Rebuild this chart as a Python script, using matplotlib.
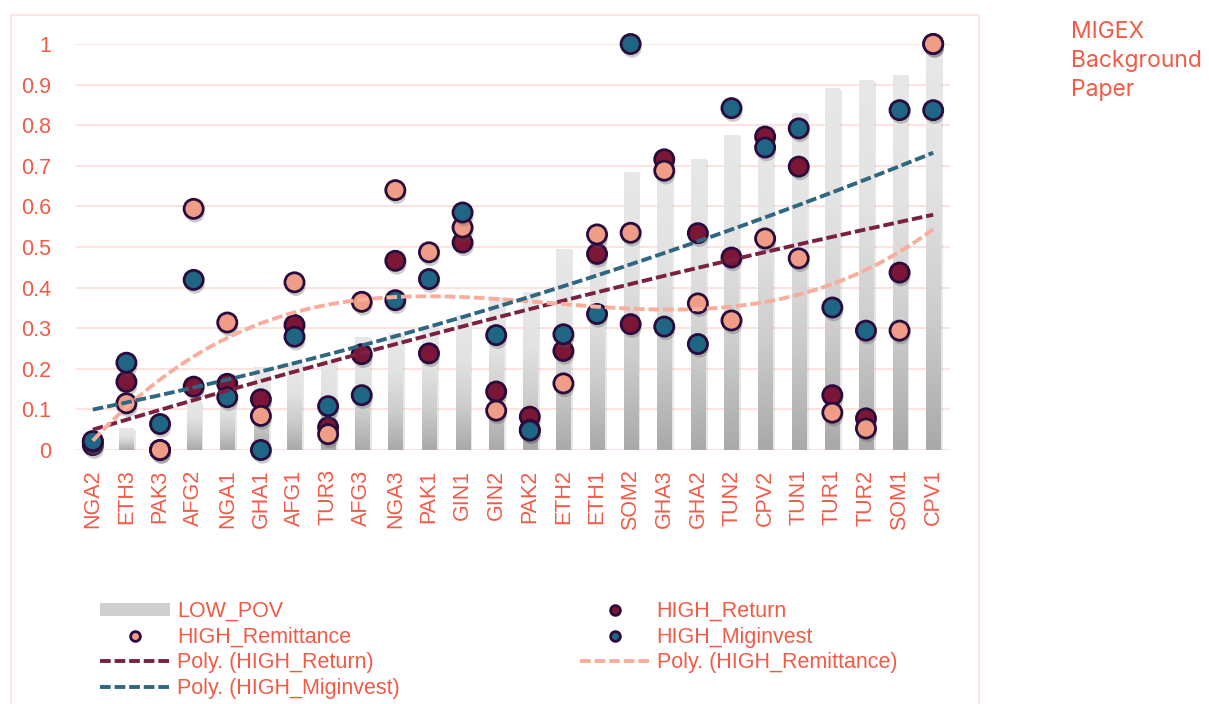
import numpy as np
import matplotlib.pyplot as plt
from matplotlib import patheffects as pe
from matplotlib.lines import Line2D
from matplotlib.patches import Patch, Rectangle
from matplotlib.colors import LinearSegmentedColormap

sites = ['NGA2', 'ETH3', 'PAK3', 'AFG2', 'NGA1', 'GHA1', 'AFG1', 'TUR3', 'AFG3',
         'NGA3', 'PAK1', 'GIN1', 'GIN2', 'PAK2', 'ETH2', 'ETH1', 'SOM2', 'GHA3',
         'GHA2', 'TUN2', 'CPV2', 'TUN1', 'TUR1', 'TUR2', 'SOM1', 'CPV1']
low_pov = [0.01, 0.053, 0.01, 0.12, 0.15, 0.205, 0.215, 0.222, 0.279, 0.289, 0.305,
           0.332, 0.378, 0.39, 0.495, 0.52, 0.685, 0.70, 0.717, 0.776, 0.80, 0.83,
           0.891, 0.911, 0.924, 0.99]
high_return = [0.012, 0.168, 0.0, 0.156, 0.163, 0.125, 0.308, 0.056, 0.236, 0.466,
               0.238, 0.511, 0.144, 0.082, 0.244, 0.483, 0.310, 0.716, 0.534, 0.474,
               0.772, 0.698, 0.135, 0.078, 0.437, 1.0]
high_remittance = [0.02, 0.115, 0.0, 0.594, 0.314, 0.084, 0.413, 0.039, 0.365, 0.640,
                   0.487, 0.548, 0.097, 0.05, 0.164, 0.531, 0.535, 0.688, 0.361, 0.319,
                   0.521, 0.472, 0.092, 0.053, 0.294, 1.0]
high_miginvest = [0.022, 0.215, 0.064, 0.419, 0.130, 0.0, 0.279, 0.108, 0.135, 0.369,
                  0.421, 0.585, 0.283, 0.048, 0.285, 0.335, 1.0, 0.304, 0.261, 0.842,
                  0.745, 0.792, 0.351, 0.294, 0.837, 0.837]

TEXT = '#f25a46'
GRID = '#fde2de'
EDGE = '#2a0b3d'

plt.rcParams['font.family'] = ['Liberation Sans', 'DejaVu Sans']

fig = plt.figure(figsize=(12.09, 7.04), dpi=100)
ax = fig.add_axes([76 / 1209, 254 / 704, 874 / 1209, 406 / 704])
x = np.arange(len(sites))

# bars with a vertical grey gradient
bars = ax.bar(x, low_pov, width=0.42, color='#d0d0d0', zorder=1,
              path_effects=[pe.SimplePatchShadow(offset=(2, -1), shadow_rgbFace='#888888', alpha=0.2),
                            pe.Normal()])
grad = np.linspace(0, 1, 256).reshape(-1, 1)
cmap = LinearSegmentedColormap.from_list('bar', ['#a9a9a9', '#cdcdcd', '#e3e3e3', '#e8e8e8'])
for b in bars:
    x0, w, h = b.get_x(), b.get_width(), b.get_height()
    im = ax.imshow(grad, cmap=cmap, extent=(x0, x0 + w, 0, h), origin='lower',
                   aspect='auto', zorder=1.5)
    im.set_clip_path(b)

series = [
    (high_return, '#7c1636', '#7a2142', 2, 'HIGH_Return'),
    (high_remittance, '#f09d88', '#f8ad9d', 3, 'HIGH_Remittance'),
    (high_miginvest, '#1f6584', '#2f6680', 2, 'HIGH_Miginvest'),
]
dot_shadow = [pe.SimplePatchShadow(offset=(1, -3), shadow_rgbFace='#555555', alpha=0.3), pe.Normal()]
for vals, face, _, _, _ in series:
    ax.scatter(x, vals, s=190, c=face, edgecolors=EDGE, linewidths=2, zorder=3,
               clip_on=False, path_effects=dot_shadow)

# polynomial trend lines
dash = (0, (2.75, 1))
xf = np.linspace(x[0], x[-1], 300)
for vals, _, line_col, deg, _ in series:
    coef = np.polyfit(x, vals, deg)
    ax.plot(xf, np.polyval(coef, xf), ls=dash, lw=2.8, color=line_col, zorder=4)

ax.set_xlim(-0.5, len(sites) - 0.5)
ax.set_ylim(0, 1)
yt = np.round(np.arange(0, 1.01, 0.1), 1)
ax.set_yticks(yt)
ax.set_yticklabels([f'{v:g}' for v in yt])
ax.set_xticks(x)
ax.set_xticklabels(sites, rotation=90)
ax.tick_params(axis='y', length=0, pad=18, labelsize=15.5, labelcolor=TEXT)
ax.tick_params(axis='x', length=0, pad=14, labelsize=15.5, labelcolor=TEXT)
ax.yaxis.grid(True, color=GRID, lw=1.4)
ax.set_axisbelow(True)
for s in ax.spines.values():
    s.set_visible(False)

# chart area outline
fig.add_artist(Rectangle((11 / 1209, -0.05), (979 - 11) / 1209, 1.05 - 15 / 704,
                         transform=fig.transFigure, fill=False, edgecolor=GRID, lw=1.2))

def dot(face):
    return Line2D([], [], ls='none', marker='o', ms=7, mfc=face, mec=EDGE, mew=2)

def trend(col):
    return Line2D([], [], ls=dash, lw=2.8, color=col)

handles = [Patch(facecolor='#cfcfcf', edgecolor='none'), dot('#f09d88'),
           trend('#7a2142'), trend('#2f6680'),
           dot('#7c1636'), dot('#1f6584'), trend('#f8ad9d')]
labels = ['LOW_POV', 'HIGH_Remittance', 'Poly. (HIGH_Return)', 'Poly. (HIGH_Miginvest)',
          'HIGH_Return', 'HIGH_Miginvest', 'Poly. (HIGH_Remittance)']
fig.legend(handles, labels, ncol=2, loc='upper left',
           bbox_to_anchor=(100 / 1209, 1 - 601 / 704), frameon=False,
           fontsize=15.5, labelcolor=TEXT, handlelength=3.25, handleheight=0.55,
           handletextpad=0.33, columnspacing=8.35, labelspacing=0.22,
           borderpad=0, borderaxespad=0)

fig.text(1071 / 1209, 1 - 21 / 704, 'MIGEX\nBackground\nPaper', ha='left', va='top',
         fontsize=16.5, color=TEXT, family=['Inter', 'DejaVu Sans'], linespacing=1.4)

fig.savefig('out.png', dpi=100)
